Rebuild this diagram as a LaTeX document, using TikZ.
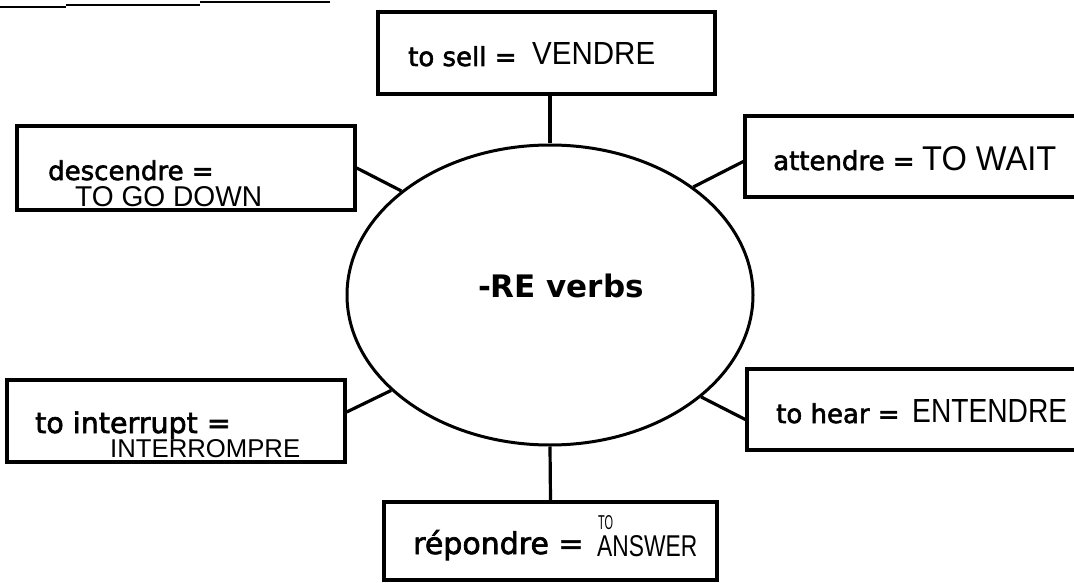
\documentclass[tikz,border=0pt]{standalone}
\usepackage{fontspec}
\usepackage{graphicx}
\setmainfont{DejaVu Sans}
\newfontfamily\typedfont{DejaVu Sans}[FakeBold=2.2]
\newfontfamily\hand{Liberation Sans}
\usetikzlibrary{shapes.geometric}
\begin{document}
\begin{tikzpicture}[x=1pt,y=-1pt,
  card/.style={draw, line width=3.4pt, inner sep=0pt, rectangle},
  hub/.style={draw, line width=3pt, ellipse, inner sep=0pt,
    minimum width=406pt, minimum height=300pt},
  link/.style={line width=3.2pt},
  typed/.style={anchor=base west, inner sep=0pt,
    font=\typedfont\fontsize{26}{30}\selectfont},
  scrawl/.style={anchor=south west, inner sep=0pt}]

% page frame
\clip (0,0) rectangle (1074,583);
\useasboundingbox (0,0) rectangle (1074,583);

% remains of the line above the sheet
\draw[line width=1.5pt] (0,7) -- (66,7);
\draw[line width=1.5pt] (66,5) -- (200,5);
\draw[line width=2.5pt] (200,2) -- (330,2);

% central topic
\node[hub] (core) at (550,295) {};
\node[anchor=base, inner sep=0pt, font=\fontsize{31}{36}\selectfont\bfseries]
  (core-label) at (561,297) {-RE verbs};

% the six vocabulary cards
\node[card, minimum width=337pt, minimum height=82pt] (sell) at (546.5,53) {};
\node[card, minimum width=338pt, minimum height=84pt] (desc) at (186,168) {};
\node[card, minimum width=345pt, minimum height=81pt] (wait) at (917.5,156.5) {};
\node[card, minimum width=338pt, minimum height=82pt] (intr) at (176,421) {};
\node[card, minimum width=343pt, minimum height=81pt] (hear) at (918.5,409.5) {};
\node[card, minimum width=333pt, minimum height=78pt] (resp) at (550.5,541) {};

% spokes
\draw[link] (core.north) -- (core.north |- sell.south);
\draw[link] (desc.east) -- (core.145);
\draw[link] ([yshift=-5pt]wait.west) -- (core.37);
\draw[link] ([yshift=9pt]intr.east) -- (core.211);
\draw[link] ([yshift=-10pt]hear.west) -- (core.326);
\draw[link] (resp.north) -- (core.south);

% typed words
\node[typed] (sell-t) at (408,66) {to sell =};
\node[typed] (desc-t) at (48,180) {descendre =};
\node[typed] (wait-t) at (773,170) {attendre =};
\node[typed, font=\typedfont\fontsize{28.5}{32}\selectfont] (intr-t) at (35,433) {to interrupt =};
\node[typed] (hear-t) at (776,423) {to hear =};
\node[typed, font=\typedfont\fontsize{30}{34}\selectfont] (resp-t) at (413,554) {répondre =};

% handwritten answers
\node[scrawl] (sell-h) at (532,65) {\resizebox{123pt}{22pt}{\hand VENDRE}};
\node[scrawl] (desc-h) at (75,207) {\resizebox{187pt}{20pt}{\hand TO GO DOWN}};
\node[scrawl] (wait-h) at (922,171) {\resizebox{134pt}{24pt}{\hand TO WAIT}};
\node[scrawl] (intr-h) at (110,458) {\resizebox{190pt}{18pt}{\hand INTERROMPRE}};
\node[scrawl] (hear-h) at (912,423) {\resizebox{155pt}{23pt}{\hand ENTENDRE}};
\node[scrawl] (resp-h1) at (598,530) {\resizebox{15pt}{14pt}{\hand TO}};
\node[scrawl] (resp-h2) at (597,557) {\resizebox{100pt}{21pt}{\hand ANSWER}};
\end{tikzpicture}
\end{document}
